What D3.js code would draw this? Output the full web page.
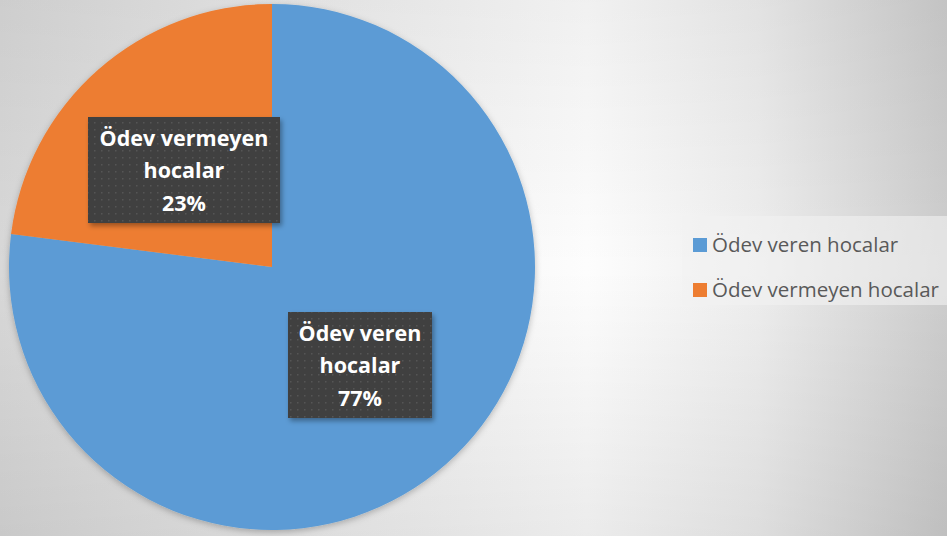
<!DOCTYPE html>
<html><head><meta charset="utf-8">
<script src="https://cdn.jsdelivr.net/npm/d3@7"></script>
<style>html,body{margin:0;padding:0;overflow:hidden;background:#fff}</style>
</head><body>
<svg id="chart" width="947" height="536"></svg>
<script>
const categories = ["Ödev veren hocalar", "Ödev vermeyen hocalar"];
const values = [77, 23];
const labelLines = [["Ödev veren", "hocalar"], ["Ödev vermeyen", "hocalar"]];
const colors = ["#5B9BD5", "#ED7D31"];

const W = 947, H = 536;
const cx = 272, cy = 267, R = 263;
// label box layout (centre x, top y, width, height)
const labelBoxes = [
  {x: 360, y: 312, w: 144, h: 106},
  {x: 184, y: 117, w: 192, h: 106}
];

const svg = d3.select("#chart");
const defs = svg.append("defs");

const lg = defs.append("linearGradient").attr("id","bgH").attr("x1","0").attr("x2","1").attr("y1","0").attr("y2","0");
[[0,"#d8d8d8"],[0.3,"#ececec"],[0.62,"#fdfdfd"],[0.8,"#eeeeee"],[1,"#cdcdcd"]].forEach(s=>lg.append("stop").attr("offset",s[0]).attr("stop-color",s[1]));
const lv = defs.append("linearGradient").attr("id","bgV").attr("x1","0").attr("x2","0").attr("y1","0").attr("y2","1");
[[0,0.05],[0.5,0],[1,0.07]].forEach(s=>lv.append("stop").attr("offset",s[0]).attr("stop-color","#000").attr("stop-opacity",s[1]));

const pat = defs.append("pattern").attr("id","dots").attr("patternUnits","userSpaceOnUse").attr("width",7).attr("height",7);
pat.append("rect").attr("width",7).attr("height",7).attr("fill","#404040");
pat.append("rect").attr("x",3).attr("y",3).attr("width",1.5).attr("height",1.5).attr("fill","#555555");

const sh = defs.append("filter").attr("id","shadow").attr("x","-20%").attr("y","-20%").attr("width","140%").attr("height","140%");
sh.append("feDropShadow").attr("dx",2).attr("dy",3).attr("stdDeviation",2.5).attr("flood-color","#000").attr("flood-opacity",0.35);
const psh = defs.append("filter").attr("id","pshadow").attr("x","-10%").attr("y","-10%").attr("width","120%").attr("height","120%");
psh.append("feDropShadow").attr("dx",0).attr("dy",2).attr("stdDeviation",3).attr("flood-color","#000").attr("flood-opacity",0.25);

svg.append("rect").attr("width",W).attr("height",H).attr("fill","url(#bgH)");
svg.append("rect").attr("width",W).attr("height",H).attr("fill","url(#bgV)");

const pie = d3.pie().sort(null).value(d=>d)(values);
const arc = d3.arc().innerRadius(0).outerRadius(R);
const g = svg.append("g").attr("transform",`translate(${cx},${cy})`).attr("filter","url(#pshadow)");
g.selectAll("path").data(pie).join("path").attr("d",arc).attr("fill",(d,i)=>colors[i]);

const total = d3.sum(values);
const fmt = d3.format(".0%");
labelBoxes.forEach((b,i)=>{
  const lgp = svg.append("g");
  lgp.append("rect").attr("x",b.x-b.w/2).attr("y",b.y).attr("width",b.w).attr("height",b.h)
     .attr("fill","url(#dots)").attr("filter","url(#shadow)");
  const lines = labelLines[i].concat([fmt(values[i]/total)]);
  lines.forEach((t,j)=>{
    lgp.append("text").attr("x",b.x).attr("y",b.y+28.5+j*32.5).attr("text-anchor","middle")
      .attr("font-family","Open Sans, sans-serif").attr("font-weight","bold").attr("font-size",21.5)
      .attr("fill","#ffffff").text(t);
  });
});

// legend
const leg = svg.append("g");
leg.append("rect").attr("x",682).attr("y",216).attr("width",265).attr("height",89).attr("fill","#f2f2f2").attr("fill-opacity",0.6);
categories.forEach((c,i)=>{
  const y = 238 + i*45;
  leg.append("rect").attr("x",693).attr("y",y).attr("width",14).attr("height",14).attr("fill",colors[i]);
  leg.append("text").attr("x",712).attr("y",y+13.5).attr("font-family","Open Sans, sans-serif")
     .attr("font-size",20.5).attr("fill","#595959").text(c);
});
</script>
</body></html>
